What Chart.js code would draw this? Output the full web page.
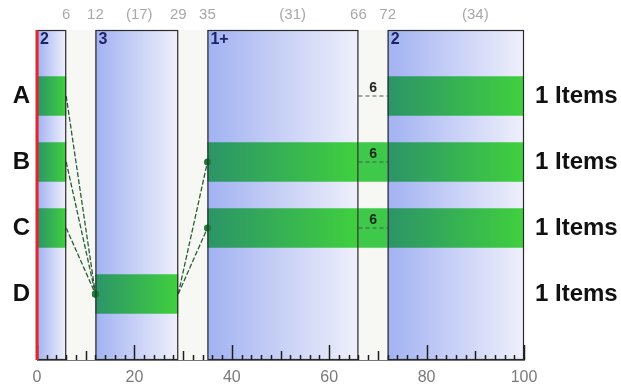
<!DOCTYPE html>
<html>
<head>
<meta charset="utf-8">
<script src="https://cdn.jsdelivr.net/npm/chart.js@4.4.0/dist/chart.umd.min.js"></script>
<style>
    body { margin: 0; background: #fff; }
    #wrap { width: 621px; height: 387px; }
</style>
</head>
<body>
<div id="wrap"><canvas id="planChart"></canvas></div>
<script>
// rows and labels
const rows = ['A', 'B', 'C', 'D'];
const itemLabels = ['1 Items', '1 Items', '1 Items', '1 Items'];

// phases (blue boxes)
const phaseStart = [0, 12, 35, 72];
const phaseEnd = [6, 29, 66, 100];
const phaseNames = ['2', '3', '1+', '2'];

// labels above the plot
const topTickValues = [6, 12, 21, 29, 35, 52.5, 66, 72, 90];
const topTickLabels = ['6', '12', '(17)', '29', '35', '(31)', '66', '72', '(34)'];

// green bars per row (A, B, C, D)
const barsPhase1 = [[0, 6], [0, 6], [0, 6], null];
const barsPhase2 = [null, null, null, [12, 29]];
const barsPhase3 = [null, [35, 66], [35, 66], null];
const barsGap = [null, [66, 72], [66, 72], null];
const barsPhase4 = [[72, 100], [72, 100], [72, 100], null];

// links: [fromX, fromRow, toX, toRow]
const links = [
    [6, 'A', 12, 'D'],
    [6, 'B', 12, 'D'],
    [6, 'C', 12, 'D'],
    [29, 'D', 35, 'B'],
    [29, 'D', 35, 'C']
];

// lag between 66 and 72
const lagRows = ['A', 'B', 'C'];
const lagFrom = 66;
const lagTo = 72;
const lagLabel = '6';

// empty slot above and below the rows
const padRows = arr => [null, ...arr, null];
const yLabels = ['', ...rows, ''];
const y2Labels = ['', ...itemLabels, ''];

const FONT = "'Liberation Sans', Arial, sans-serif";

const greenFill = (context) => {
    const chart = context.chart;
    const raw = context.raw;
    if (!chart.chartArea || !raw) {
        return '#3cbf4c';
    }
    const x = chart.scales.x;
    const g = chart.ctx.createLinearGradient(x.getPixelForValue(raw[0]), 0, x.getPixelForValue(raw[1]), 0);
    g.addColorStop(0, '#2c9468');
    g.addColorStop(1, '#40d03e');
    return g;
};

const barDataset = (data) => ({
    type: 'bar',
    data: padRows(data),
    backgroundColor: greenFill,
    borderWidth: 0,
    grouped: false,
    categoryPercentage: 1,
    barPercentage: 0.6,
    order: 2
});

const datasets = [
    barDataset(barsPhase1),
    barDataset(barsPhase2),
    barDataset(barsPhase3),
    {
        type: 'bar',
        data: padRows(barsGap),
        backgroundColor: '#3fc94a',
        borderWidth: 0,
        grouped: false,
        categoryPercentage: 1,
        barPercentage: 0.6,
        order: 2
    },
    barDataset(barsPhase4)
];

links.forEach(l => {
    datasets.push({
        type: 'line',
        data: [{ x: l[0], y: l[1] }, { x: l[2], y: l[3] }],
        borderColor: '#2a5f36',
        borderWidth: 1.3,
        borderDash: [5, 2],
        pointRadius: [0, 3.5],
        pointBackgroundColor: '#1f7a34',
        pointBorderWidth: 0,
        order: 0
    });
});

lagRows.forEach(r => {
    datasets.push({
        type: 'line',
        data: [{ x: lagFrom, y: r }, { x: lagTo, y: r }],
        borderColor: '#3d5d45',
        borderWidth: 1.2,
        borderDash: [4, 3],
        pointRadius: 0,
        order: 0
    });
});

// boxes, red start line, tick marks and small labels
const planDecor = {
    id: 'planDecor',
    beforeDatasetsDraw(chart) {
        const { ctx, chartArea, scales } = chart;
        ctx.save();
        ctx.fillStyle = '#f7f7f4';
        ctx.fillRect(chartArea.left, chartArea.top, chartArea.width, chartArea.height);
        for (let i = 0; i < phaseStart.length; i++) {
            const x0 = scales.x.getPixelForValue(phaseStart[i]);
            const x1 = scales.x.getPixelForValue(phaseEnd[i]);
            const g = ctx.createLinearGradient(x0, 0, x1, 0);
            g.addColorStop(0, '#a2b2f2');
            g.addColorStop(1, '#eff0fb');
            ctx.fillStyle = g;
            ctx.fillRect(x0, chartArea.top, x1 - x0, chartArea.height);
        }
        ctx.restore();
    },
    afterDatasetsDraw(chart) {
        const { ctx, chartArea, scales } = chart;
        const x = scales.x;
        const y = scales.y;
        ctx.save();
        ctx.setLineDash([]);

        // box borders
        ctx.strokeStyle = '#2a2a2a';
        ctx.lineWidth = 1.2;
        for (let i = 0; i < phaseStart.length; i++) {
            const x0 = x.getPixelForValue(phaseStart[i]);
            const x1 = x.getPixelForValue(phaseEnd[i]);
            ctx.strokeRect(x0 + 0.5, chartArea.top + 0.5, x1 - x0 - 1, chartArea.height - 1);
        }

        // tick marks rising from the axis
        ctx.strokeStyle = '#1e1e1e';
        ctx.lineWidth = 1.5;
        const bottom = chartArea.bottom;
        x.ticks.forEach(t => {
            const px = Math.round(x.getPixelForValue(t.value)) + 0.5;
            let len = 5;
            if (t.value % 20 === 0) len = 15;
            else if (t.value % 10 === 0) len = 9;
            ctx.beginPath();
            ctx.moveTo(px, bottom);
            ctx.lineTo(px, bottom - len);
            ctx.stroke();
        });

        // red start line
        ctx.strokeStyle = '#e3262b';
        ctx.lineWidth = 3;
        const xr = x.getPixelForValue(0);
        ctx.beginPath();
        ctx.moveTo(xr, chartArea.top);
        ctx.lineTo(xr, chartArea.bottom);
        ctx.stroke();

        // phase names
        ctx.fillStyle = '#1b2566';
        ctx.font = 'bold 16px ' + FONT;
        ctx.textBaseline = 'top';
        ctx.textAlign = 'left';
        for (let i = 0; i < phaseStart.length; i++) {
            ctx.fillText(phaseNames[i], x.getPixelForValue(phaseStart[i]) + 3, chartArea.top + 2);
        }

        // lag labels
        ctx.fillStyle = '#1d2a1d';
        ctx.font = 'bold 14px ' + FONT;
        ctx.textAlign = 'center';
        ctx.textBaseline = 'bottom';
        const xm = x.getPixelForValue((lagFrom + lagTo) / 2);
        lagRows.forEach(r => {
            ctx.fillText(lagLabel, xm, y.getPixelForValue(yLabels.indexOf(r)) - 1);
        });

        ctx.restore();
    }
};

new Chart(document.getElementById('planChart'), {
    data: {
        labels: yLabels,
        datasets: datasets
    },
    options: {
        indexAxis: 'y',
        responsive: true,
        maintainAspectRatio: false,
        animation: false,
        layout: { padding: 0 },
        scales: {
            x: {
                type: 'linear',
                position: 'bottom',
                min: 0,
                max: 100,
                afterFit: axis => { axis.height = 27; },
                grid: { display: false },
                border: { display: true, color: '#777', width: 1 },
                ticks: {
                    stepSize: 2,
                    autoSkip: false,
                    maxRotation: 0,
                    padding: 0,
                    color: '#7a7a7a',
                    font: { family: FONT, size: 16 },
                    callback: v => (v % 20 === 0 ? v : '')
                }
            },
            x2: {
                type: 'linear',
                position: 'top',
                min: 0,
                max: 100,
                afterFit: axis => { axis.height = 30; },
                afterBuildTicks: axis => {
                    axis.ticks = topTickValues.map(v => ({ value: v }));
                },
                grid: { display: false, drawTicks: false },
                border: { display: false },
                ticks: {
                    autoSkip: false,
                    maxRotation: 0,
                    padding: 6,
                    color: '#a8a8a8',
                    font: { family: FONT, size: 15 },
                    callback: (v, i) => topTickLabels[i]
                }
            },
            y: {
                type: 'category',
                position: 'left',
                offset: false,
                afterFit: axis => { axis.width = 37; },
                grid: { display: false, drawTicks: false },
                border: { display: false },
                ticks: {
                    autoSkip: false,
                    padding: 7,
                    color: '#111',
                    font: { family: FONT, size: 24, weight: 'bold' }
                }
            },
            y2: {
                type: 'category',
                position: 'right',
                labels: y2Labels,
                offset: false,
                afterFit: axis => { axis.width = 97; },
                grid: { display: false, drawTicks: false },
                border: { display: false },
                ticks: {
                    autoSkip: false,
                    padding: 11,
                    color: '#111',
                    font: { family: FONT, size: 24, weight: 'bold' }
                }
            }
        },
        plugins: {
            legend: { display: false },
            tooltip: { enabled: false }
        }
    },
    plugins: [planDecor]
});
</script>
</body>
</html>
